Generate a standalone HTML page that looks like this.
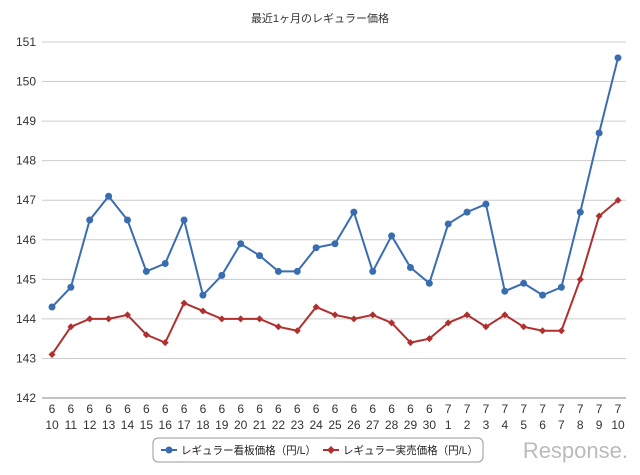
<!DOCTYPE html>
<html><head><meta charset="utf-8"><style>
body{margin:0;background:#fff;font-family:"Liberation Sans","Noto Sans CJK JP",sans-serif}
</style></head><body>
<svg id="c" width="640" height="470" xmlns="http://www.w3.org/2000/svg" font-family="Liberation Sans, Noto Sans CJK JP, sans-serif">
<text x="320" y="22" font-size="11" text-anchor="middle" fill="#333">最近1ヶ月のレギュラー価格</text>
<g id="grid"></g><g id="axes"></g><g id="series"></g>
<g>
<rect x="153" y="438" width="330" height="24" rx="5" fill="#fff" stroke="#999"/>
<line x1="161" y1="450" x2="177" y2="450" stroke="#3a6db0" stroke-width="2"/><circle cx="169" cy="450" r="3.5" fill="#3a6db0"/>
<text x="181" y="454" font-size="11" textLength="135" lengthAdjust="spacingAndGlyphs" fill="#222">レギュラー看板価格（円/L）</text>
<line x1="323" y1="450" x2="339" y2="450" stroke="#b03030" stroke-width="2"/><path d="M331 446 L335 450 L331 454 L327 450Z" fill="#b03030"/>
<text x="343" y="454" font-size="11" textLength="135" lengthAdjust="spacingAndGlyphs" fill="#222">レギュラー実売価格（円/L）</text>
</g>
<text x="628" y="458" font-size="22" text-anchor="end" fill="#bbb">Response.</text>
</svg>
<script>
const months=[6,6,6,6,6,6,6,6,6,6,6,6,6,6,6,6,6,6,6,6,6,7,7,7,7,7,7,7,7,7,7];
const days=[10,11,12,13,14,15,16,17,18,19,20,21,22,23,24,25,26,27,28,29,30,1,2,3,4,5,6,7,8,9,10];
const signPrice=[144.3,144.8,146.5,147.1,146.5,145.2,145.4,146.5,144.6,145.1,145.9,145.6,145.2,145.2,145.8,145.9,146.7,145.2,146.1,145.3,144.9,146.4,146.7,146.9,144.7,144.9,144.6,144.8,146.7,148.7,150.6];
const salePrice=[143.1,143.8,144.0,144.0,144.1,143.6,143.4,144.4,144.2,144.0,144.0,144.0,143.8,143.7,144.3,144.1,144.0,144.1,143.9,143.4,143.5,143.9,144.1,143.8,144.1,143.8,143.7,143.7,145.0,146.6,147.0];
const yTicks=[142,143,144,145,146,147,148,149,150,151];
const NS="http://www.w3.org/2000/svg";
const X0=52,X1=618,Y0=398,Y1=42,YMIN=142,YMAX=151;
const xs=i=>X0+(X1-X0)*i/(days.length-1);
const ys=v=>Y0-(v-YMIN)*(Y0-Y1)/(YMAX-YMIN);
function mk(t,a,p){const e=document.createElementNS(NS,t);for(const k in a)e.setAttribute(k,a[k]);p.appendChild(e);return e;}
const g=document.getElementById('grid'),ax=document.getElementById('axes'),s=document.getElementById('series');
yTicks.forEach(v=>{
 const l=mk('line',{x1:42,x2:X1+8,y1:ys(v),y2:ys(v),stroke:v===YMIN?'#888':'#ccc'},g);
 
 
 const t=mk('text',{x:36,y:ys(v)+4,'font-size':12,'text-anchor':'end',fill:'#333'},ax);t.textContent=v;
 
 
});
days.forEach((d,i)=>{
 const t1=mk('text',{x:xs(i),y:413,'font-size':12,'text-anchor':'middle',fill:'#333'},ax);t1.textContent=months[i];
 
 
 const t2=mk('text',{x:xs(i),y:429,'font-size':12,'text-anchor':'middle',fill:'#333'},ax);t2.textContent=d;
 
 
});
function draw(arr,col,name,diamond){
 const p=mk('polyline',{points:arr.map((v,i)=>xs(i)+','+ys(v)).join(' '),fill:'none',stroke:col,'stroke-width':2},s);
 
 
 arr.forEach((v,i)=>{const x=xs(i),y=ys(v);
  const m=diamond?mk('path',{d:`M${x} ${y-3.5}L${x+3.5} ${y}L${x} ${y+3.5}L${x-3.5} ${y}Z`,fill:col},s):mk('circle',{cx:x,cy:y,r:3.5,fill:col},s);
  
  
 });
}
draw(salePrice,'#b03030','sale-price',true);
draw(signPrice,'#3a6db0','sign-price',false);
</script>
</body></html>
